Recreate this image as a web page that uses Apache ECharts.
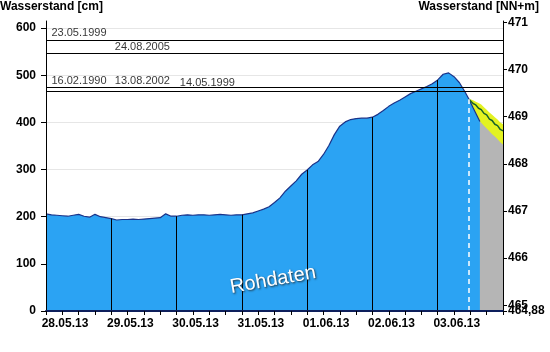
<!DOCTYPE html>
<html><head><meta charset="utf-8">
<script src="https://cdn.jsdelivr.net/npm/echarts@6/dist/echarts.min.js"></script>
<style>html,body{margin:0;padding:0;background:#fff}#c{width:550px;height:352px}</style>
</head><body><div id="c"></div>
<script>
// ---- data ----
const dayLabels = ['28.05.13','29.05.13','30.05.13','31.05.13','01.06.13','02.06.13','03.06.13'];
const leftTicks = [0,100,200,300,400,500,600];
const rightTicks = [465,466,467,468,469,470,471];
const rightZeroTick = [464.88];
// observed water level (cm), every 2 h from 28.05.13 00:00, then a few extra points
const obsLevel2h = [
  206,204,203,202,201,203,205,201,199,205,200,198,
  196,193,194,194,195,194,195,196,197,198,206,201,
  201,203,204,203,204,204,203,204,205,204,203,204,
  204,206,208,212,216,221,230,240,254,265,276,290,
  299,310,317,332,351,374,392,401,406,408,409,409,
  411,417,425,434,441,447,454,461,466,471,476,482,
  490,502,505,497,484,465
];
const obsExtraHours = [155.5,157,159.5];
const obsExtraLevel = [449,431,402];
// forecast (cm)
const fcHours = [155.5,157,158,159,160,161,162,163,164,165,166,167,168];
const fcUpper = [450,447,444,441,438,432,427,421,416,411,406,400,396];
const fcLower = [449,431,418,405,399,393,387,381,375,370,364,358,353];
const fcMid   = [449,440,437,430,427,419,416,407,404,396,393,385,382];
// flood marks (cm)
const floodNames  = ['23.05.1999','24.08.2005','16.02.1990','13.08.2002','14.05.1999'];
const floodLevels = [575,547,474,474,467];
const nowHour = 155.5;

// ---- build ----
const obsHours = obsLevel2h.map((_, i) => i * 2).concat(obsExtraHours);
const obsLevel = obsLevel2h.concat(obsExtraLevel);
const obsData = obsHours.map((h, i) => [h, obsLevel[i]]);
const valueAt = h => {
  const i = obsHours.indexOf(h);
  return i >= 0 ? obsLevel[i] : 0;
};
const pair = (xs, ys) => xs.map((x, i) => [x, ys[i]]);
const FONT = '"Liberation Sans", Arial, sans-serif';
const labelHoursFloodLayout = [2, 25.3, 2, 25.3, 49.2];

const dayLines = dayLabels.slice(1).map((_, i) => {
  const h = (i + 1) * 24;
  return [{coord: [h, 0], lineStyle: {color: '#000', width: 1, type: 'solid'}}, {coord: [h, valueAt(h)]}];
});
const nowLine = [{coord: [nowHour, 0], lineStyle: {color: '#ffffff', width: 1.5, type: [5, 4]}}, {coord: [nowHour, valueAt(nowHour)]}];
const floodLines = floodLevels.map(v => ({yAxis: v, lineStyle: {color: '#000', width: 1, type: 'solid'}}));

const tickFont = {fontSize: 12, fontWeight: 'bold', fontFamily: FONT, color: '#000'};
const RMIN = 464.88, RMAX = 471.03;

const chart = echarts.init(document.getElementById('c'), null, {renderer: 'canvas'});
chart.setOption({
  animation: false,
  backgroundColor: '#fff',
  title: [
    {text: 'Wasserstand [cm]', left: 0, top: 1, padding: 0,
     textStyle: {fontSize: 12, fontWeight: 'bold', fontFamily: FONT, color: '#000'}},
    {text: 'Wasserstand [NN+m]', right: 11, top: 1, padding: 0,
     textStyle: {fontSize: 12, fontWeight: 'bold', fontFamily: FONT, color: '#000'}}
  ],
  grid: {left: 46, right: 47, top: 21, bottom: 41, containLabel: false},
  xAxis: {
    type: 'value', min: 0, max: 168, interval: 6, z: 10,
    axisLine: {show: true, onZero: false, lineStyle: {color: '#0d1f5c', width: 2}},
    axisTick: {show: true, length: 4, lineStyle: {color: '#000', width: 1}},
    splitLine: {show: false},
    axisLabel: Object.assign({
      customValues: dayLabels.map((_, i) => i * 24 + 7),
      formatter: v => dayLabels[Math.round((v - 7) / 24)] || '',
      margin: 7
    }, tickFont)
  },
  yAxis: [
    { // grid lines only, behind the series
      type: 'value', min: 0, max: 615, position: 'left', z: 0,
      axisLine: {show: false}, axisTick: {show: false, customValues: leftTicks},
      axisLabel: {show: false, customValues: leftTicks},
      splitLine: {show: true, lineStyle: {color: '#e6e6e6', width: 1}}
    },
    {
      type: 'value', min: RMIN, max: RMAX, position: 'right', offset: 0, z: 10,
      axisLine: {show: true, lineStyle: {color: '#000', width: 1}},
      axisTick: {show: true, length: 4, customValues: rightTicks, lineStyle: {color: '#000'}},
      axisLabel: Object.assign({customValues: rightTicks, showMinLabel: true, hideOverlap: false,
        formatter: v => String(Math.round(v)), margin: 5}, tickFont),
      splitLine: {show: false}
    },
    { // visible left axis on top
      type: 'value', min: 0, max: 615, position: 'left', z: 10,
      axisLine: {show: true, lineStyle: {color: '#000', width: 1}},
      axisTick: {show: true, length: 5, customValues: leftTicks, lineStyle: {color: '#000'}},
      axisLabel: Object.assign({customValues: leftTicks, margin: 10}, tickFont),
      splitLine: {show: false}
    },
    { // 464,88 bottom label of the right axis
      type: 'value', min: RMIN, max: RMAX, position: 'right', offset: 0, z: 10,
      axisLine: {show: false},
      axisTick: {show: true, length: 4, customValues: rightZeroTick, lineStyle: {color: '#000'}},
      axisLabel: Object.assign({customValues: rightZeroTick, showMinLabel: true,
        formatter: v => v.toFixed(2).replace('.', ','), margin: 5}, tickFont),
      splitLine: {show: false}
    }
  ],
  series: [
    {
      name: 'upper', type: 'line', data: pair(fcHours, fcUpper), symbol: 'none', z: 1,
      lineStyle: {width: 0}, areaStyle: {color: '#e3f221', opacity: 1}
    },
    {
      name: 'lower', type: 'line', data: pair(fcHours, fcLower), symbol: 'none', z: 1,
      lineStyle: {width: 0}, areaStyle: {color: '#b5b5b5', opacity: 1}
    },
    {
      name: 'Rohdaten', type: 'line', data: obsData, symbol: 'none', z: 2,
      lineStyle: {color: '#1b3389', width: 1.2},
      areaStyle: {color: '#2ba3f3', opacity: 1},
      markLine: {
        silent: true, symbol: ['none', 'none'], label: {show: false}, animation: false,
        data: dayLines.concat([nowLine]).concat(floodLines)
      }
    },
    {
      name: 'Vorhersage', type: 'line', data: pair(fcHours, fcMid), symbol: 'none', z: 3,
      lineStyle: {color: '#17612a', width: 1.5}
    },
    {
      name: 'floodLabels', type: 'scatter', z: 4, symbolSize: 0, silent: true,
      data: floodLevels.map((v, i) => ({value: [labelHoursFloodLayout[i], v], name: floodNames[i],
        label: i === 4 ? {backgroundColor: '#fff', padding: [0, 4, 1, 4], position: [-4, -1]} : {}})),
      label: {
        show: true, formatter: p => p.name, position: [0, -1], align: 'left', verticalAlign: 'bottom',
        fontSize: 11, fontFamily: FONT, color: '#000'
      }
    }
  ],
  graphic: [{
    type: 'text', x: 273, y: 280, rotation: 10 * Math.PI / 180, z: 100,
    style: {text: 'Rohdaten', fill: '#ffffff', font: '20px ' + FONT, align: 'center', verticalAlign: 'middle',
      textShadowColor: 'rgba(30,30,30,0.85)', textShadowBlur: 2, textShadowOffsetX: 1, textShadowOffsetY: 1}
  }]
});
</script>
</body></html>
